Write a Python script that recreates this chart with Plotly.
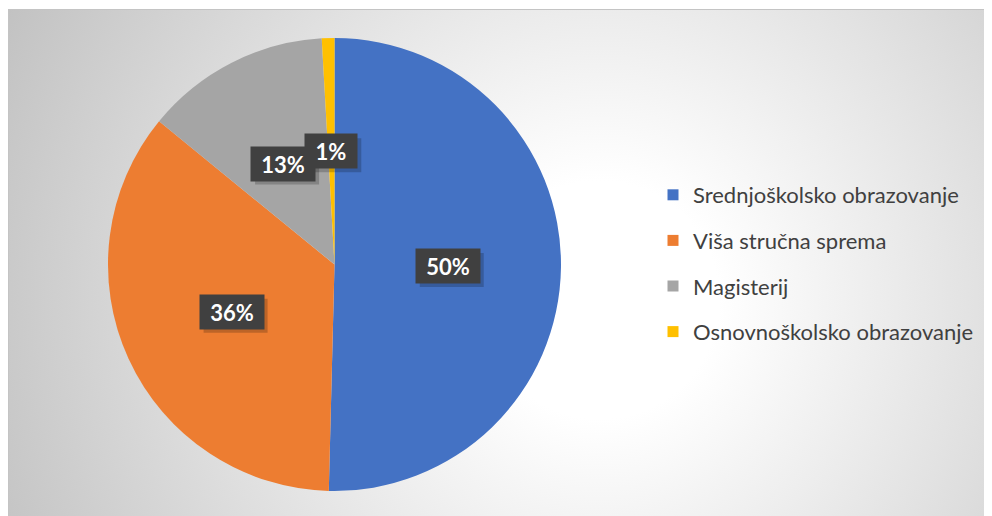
import base64
import math

import plotly.graph_objects as go

categories = [
    "Srednjoškolsko obrazovanje",
    "Viša stručna sprema",
    "Magisterij",
    "Osnovnoškolsko obrazovanje",
]
shares = [50.4, 35.5, 13.2, 0.9]
colors = ["#4472C4", "#ED7D31", "#A5A5A5", "#FFC000"]

# the page body adds an 8px margin, so the figure is a little smaller than the window
W, H = 984, 508
PIE_LEFT, PIE_RIGHT, PIE_TOP, PIE_BOTTOM = 100, 553, 30, 483

background_svg = f"""<svg xmlns='http://www.w3.org/2000/svg' width='{W}' height='{H}'>
<defs><radialGradient id='g' gradientUnits='userSpaceOnUse' cx='592' cy='292' r='660'>
<stop offset='0.18' stop-color='#ffffff'/><stop offset='1' stop-color='#c2c2c2'/>
</radialGradient></defs>
<rect width='{W}' height='{H}' fill='#ffffff'/>
<rect x='0.5' y='1.5' width='{W + 10}' height='{H + 10}' fill='url(#g)' stroke='#c4c4c4' stroke-width='1'/>
</svg>"""
background_uri = "data:image/svg+xml;base64," + base64.b64encode(
    background_svg.encode()
).decode()

fig = go.Figure()
fig.add_trace(
    go.Pie(
        labels=categories,
        values=shares,
        sort=False,
        direction="clockwise",
        rotation=0,
        marker={"colors": colors, "line": {"width": 0}},
        textinfo="none",
        hoverinfo="label+percent",
        showlegend=False,
        domain={
            "x": [PIE_LEFT / W, PIE_RIGHT / W],
            "y": [1 - PIE_BOTTOM / H, 1 - PIE_TOP / H],
        },
    )
)

# legend entries, one group each so the gap between them can be set
for name, color in zip(categories, colors):
    fig.add_trace(
        go.Scatter(
            x=[None],
            y=[None],
            mode="markers",
            name=name,
            legendgroup=name,
            marker={"symbol": "square", "size": 11, "color": color},
        )
    )

# data labels at half radius on each slice's mid angle
cx = (PIE_LEFT + PIE_RIGHT) / 2
cy = (PIE_TOP + PIE_BOTTOM) / 2
radius = (PIE_RIGHT - PIE_LEFT) / 2
total = sum(shares)
start = 0.0
annotations = []
shapes = []
for value in shares:
    mid = (start + value / 2) / total * 2 * math.pi
    start += value
    px = cx + 0.5 * radius * math.sin(mid)
    py = cy - 0.5 * radius * math.cos(mid)
    text = f"{round(value / total * 100)}%"
    box_w = 12 * len(text) + 28
    box_h = 34
    # soft drop shadow behind the label box
    shapes.append(
        dict(
            type="rect",
            xref="paper",
            yref="paper",
            x0=(px - box_w / 2 + 4) / W,
            x1=(px + box_w / 2 + 4) / W,
            y0=1 - (py + box_h / 2 + 4) / H,
            y1=1 - (py - box_h / 2 + 4) / H,
            fillcolor="rgba(0,0,0,0.2)",
            line={"width": 0},
            layer="above",
        )
    )
    annotations.append(
        dict(
            x=px / W,
            y=1 - py / H,
            xref="paper",
            yref="paper",
            xanchor="center",
            yanchor="middle",
            showarrow=False,
            width=box_w,
            height=box_h,
            borderpad=0,
            align="center",
            valign="middle",
            text=f"<b>{text}</b>",
            font={"color": "#ffffff", "size": 22, "family": "Lato"},
            bgcolor="#404040",
        )
    )

fig.update_layout(
    width=W,
    height=H,
    margin={"l": 0, "r": 0, "t": 0, "b": 0},
    paper_bgcolor="#ffffff",
    plot_bgcolor="rgba(0,0,0,0)",
    font={"family": "Lato, Carlito, sans-serif", "color": "#404040"},
    xaxis={"visible": False},
    yaxis={"visible": False},
    images=[
        dict(
            source=background_uri,
            xref="paper",
            yref="paper",
            x=0,
            y=1,
            sizex=1,
            sizey=1,
            sizing="stretch",
            layer="below",
        )
    ],
    legend={
        "x": 645 / W,
        "y": 1 - 166 / H,
        "xanchor": "left",
        "yanchor": "top",
        "font": {"size": 22, "color": "#404040"},
        "tracegroupgap": 14,
        "bgcolor": "rgba(0,0,0,0)",
        "itemclick": False,
    },
    shapes=shapes,
    annotations=annotations,
    showlegend=True,
)

fig.write_html("out.html")
